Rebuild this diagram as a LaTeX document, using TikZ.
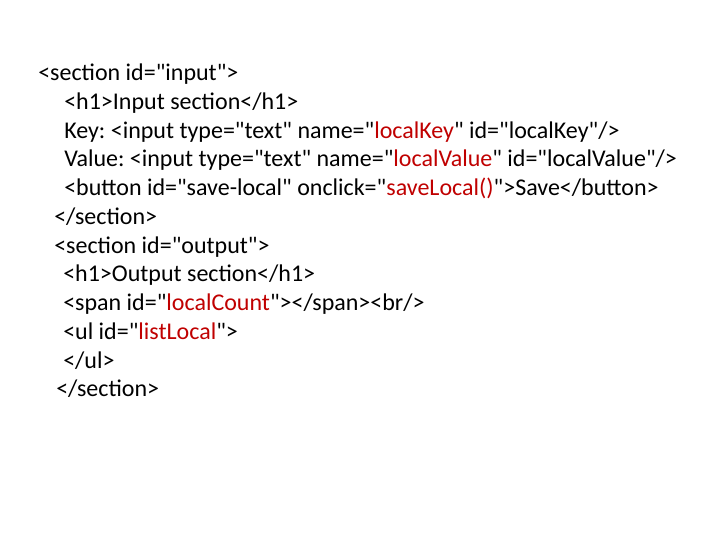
\documentclass[tikz,border=0pt]{standalone}
\usepackage{fontspec}
\setmainfont{Carlito}[Ligatures=TeXOff]
\usepackage{tikz}
\definecolor{attrred}{RGB}{192,0,0}
\tikzstyle{code} = [anchor=base west, inner sep=0pt, font={\fontsize{18}{21.6}\selectfont\frenchspacing}]
\newcommand{\attrval}[1]{\textcolor{attrred}{#1}}

\begin{document}
\begin{tikzpicture}[x=0.75pt, y=-0.75pt]
    \useasboundingbox[fill=white] (0,0) rectangle (720,540);
    \node[code](secin) at (38,80){<section id="input">};
    \node[code](h1in) at (64,109){<h1>Input section</h1>};
    \node[code](key) at (64,138){Key: <input type="text" name="\attrval{localKey}" id="localKey"/>};
    \node[code](value) at (64,166){Value: <input type="text" name="\attrval{localValue}" id="localValue"/>};
    \node[code](button) at (64,195){<button id="save-local" onclick="\attrval{saveLocal()}">Save</button>};
    \node[code](secinend) at (54,224){</section>};
    \node[code](secout) at (54,253){<section id="output">};
    \node[code](h1out) at (63,281){<h1>Output section</h1>};
    \node[code](span) at (63,310){<span id="\attrval{localCount}"></span><br/>};
    \node[code](ul) at (63,339){<ul id="\attrval{listLocal}">};
    \node[code](ulend) at (63,368){</ul>};
    \node[code](secoutend) at (56,396){</section>};
  \end{tikzpicture}
\end{document}
